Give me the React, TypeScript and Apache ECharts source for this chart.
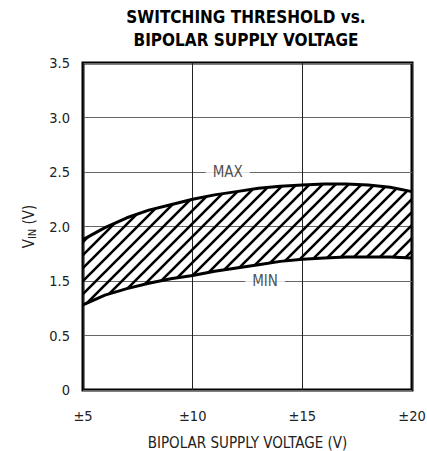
import React, { useEffect, useRef } from "react";
import * as echarts from "echarts";

const xValues = [5, 6, 7, 8, 9, 10, 11, 12, 13, 14, 15, 16, 17, 18, 19, 20];
const maxValues = [1.88, 1.99, 2.08, 2.15, 2.2, 2.25, 2.29, 2.32, 2.35, 2.37, 2.38, 2.39, 2.39, 2.38, 2.36, 2.32];
const minValues = [1.28, 1.37, 1.43, 1.48, 1.52, 1.55, 1.59, 1.62, 1.65, 1.68, 1.7, 1.71, 1.72, 1.72, 1.72, 1.71];
const xTickLabels = ["±5", "±10", "±15", "±20"];
const yTickLabels = ["0", "0.5", "1.5", "2.0", "2.5", "3.0", "3.5"];
const curveLabels = ["MAX", "MIN"];
const curveLabelX = [11.6, 13.3];
const curveLabelY = [2.5, 1.5];

const FONT = "'DejaVu Sans Condensed', 'Liberation Sans Narrow', sans-serif";

function makeHatch(): HTMLCanvasElement {
  const s = 13;
  const c = document.createElement("canvas");
  c.width = s;
  c.height = s;
  const ctx = c.getContext("2d")!;
  ctx.strokeStyle = "#000";
  ctx.lineWidth = 2.6;
  ctx.lineCap = "square";
  ctx.beginPath();
  ctx.moveTo(0, s);
  ctx.lineTo(s, 0);
  ctx.moveTo(-2, 2);
  ctx.lineTo(2, -2);
  ctx.moveTo(s - 2, s + 2);
  ctx.lineTo(s + 2, s - 2);
  ctx.stroke();
  return c;
}

export default function App() {
  const ref = useRef<HTMLDivElement>(null);
  useEffect(() => {
    if (!ref.current) return;
    const chart = echarts.init(ref.current, undefined, { renderer: "svg" });
    const hatch = makeHatch();
    const minData = xValues.map((x, i) => [x, minValues[i]]);
    const maxData = xValues.map((x, i) => [x, maxValues[i]]);
    const labelData = curveLabels.map((n, i) => ({ name: n, value: [curveLabelX[i], curveLabelY[i]] }));
    chart.setOption({
      animation: false,
      textStyle: { fontFamily: FONT },
      graphic: [
        {
          type: "text",
          x: 246,
          y: 5,
          style: {
            text: "SWITCHING THRESHOLD vs.\nBIPOLAR SUPPLY VOLTAGE",
            textAlign: "center",
            fontFamily: FONT,
            fontWeight: "bold",
            fontSize: 17,
            lineHeight: 23,
            fill: "#000",
          },
        },
      ],
      grid: {
        left: 83,
        right: 15,
        top: 63,
        bottom: 61,
        show: true,
        borderWidth: 3,
        borderColor: "#000",
        containLabel: false,
        outerBoundsMode: "none",
      },
      xAxis: {
        type: "value",
        min: 5,
        max: 20,
        interval: 5,
        axisLine: { show: false },
        axisTick: { show: false },
        splitLine: { show: true, lineStyle: { color: "#222", width: 1 } },
        axisLabel: {
          margin: 18,
          fontSize: 14.5,
          color: "#222",
          fontFamily: FONT,
          formatter: (v: number) => xTickLabels[Math.round((v - 5) / 5)] ?? "",
        },
        name: "BIPOLAR SUPPLY VOLTAGE (V)",
        nameLocation: "middle",
        nameGap: 45,
        nameTextStyle: { fontSize: 15, color: "#222", fontFamily: FONT },
      },
      yAxis: {
        type: "value",
        min: 0.5,
        max: 3.5,
        interval: 0.5,
        axisLine: { show: false },
        axisTick: { show: false },
        splitLine: { show: true, lineStyle: { color: "#666", width: 1 } },
        axisLabel: {
          margin: 13,
          fontSize: 14.5,
          color: "#222",
          fontFamily: FONT,
          padding: [6, 0, 0, 0],
          formatter: (v: number) => yTickLabels[Math.round((v - 0.5) / 0.5)] ?? "",
        },
        name: "V{sub|IN} (V)",
        nameLocation: "middle",
        nameGap: 44,
        nameRotate: 90,
        nameTextStyle: {
          fontSize: 15,
          color: "#222",
          fontFamily: FONT,
          rich: {
            sub: { fontSize: 11, color: "#222", fontFamily: FONT, padding: [7, 0, 0, 0] },
          },
        },
      },
      series: [
        {
          type: "custom",
          silent: true,
          data: [0],
          z: 2,
          renderItem: (_params: any, api: any) => {
            const pts: number[][] = [];
            for (let i = 0; i < xValues.length; i++) pts.push(api.coord([xValues[i], maxValues[i]]));
            for (let i = xValues.length - 1; i >= 0; i--) pts.push(api.coord([xValues[i], minValues[i]]));
            return {
              type: "polygon",
              shape: { points: pts },
              style: { fill: { image: hatch, repeat: "repeat" }, stroke: "none" },
            };
          },
        },
        {
          type: "line",
          data: minData,
          symbol: "none",
          silent: true,
          lineStyle: { color: "#000", width: 3 },
          z: 3,
        },
        {
          type: "line",
          data: maxData,
          symbol: "none",
          silent: true,
          lineStyle: { color: "#000", width: 3 },
          z: 3,
        },
        {
          type: "scatter",
          data: labelData,
          symbolSize: 1,
          silent: true,
          itemStyle: { color: "rgba(0,0,0,0)" },
          label: {
            show: true,
            position: "inside",
            formatter: (p: any) => p.name,
            fontSize: 15,
            color: "#222",
            fontFamily: FONT,
            backgroundColor: "#fff",
            padding: [1, 7],
          },
          z: 4,
        },
      ],
    });
    return () => chart.dispose();
  }, []);
  return (
    <div
      ref={ref}
      style={{ position: "absolute", left: 0, top: 0, width: 427, height: 451, background: "#fff" }}
    />
  );
}
